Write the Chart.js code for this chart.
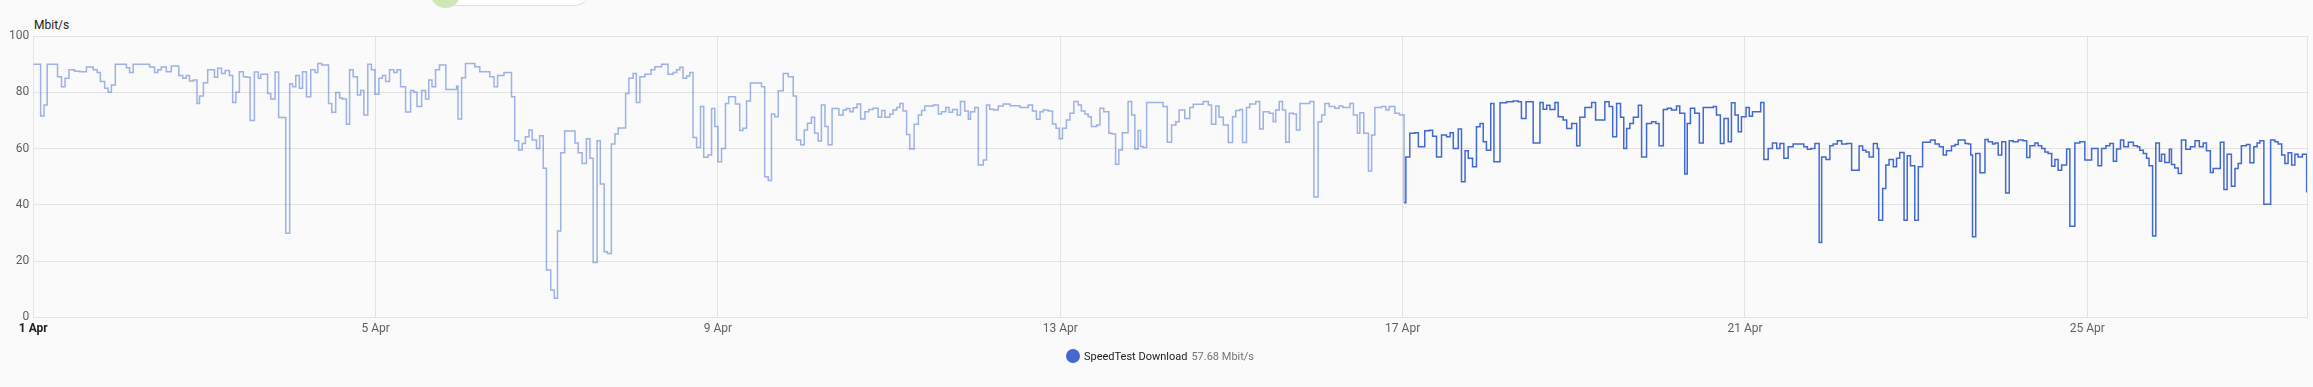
<!DOCTYPE html>
<html>
<head>
<meta charset="utf-8">
<script src="https://cdn.jsdelivr.net/npm/chart.js@4.4.1/dist/chart.umd.min.js"></script>
<style>
html,body{margin:0;padding:0;background:#fafafa;width:2313px;height:387px;overflow:hidden;font-family:Roboto,"Noto Sans",sans-serif;}
#chip{position:absolute;left:430px;top:-30px;width:162px;height:36px;border:1px solid #d6e9c6;border-radius:19px;background:#ffffff;box-sizing:border-box;}
#chipDot{position:absolute;left:430px;top:-24px;width:31px;height:32px;border-radius:50%;background:#cfe6b6;}
#unit{position:absolute;left:34px;top:18px;font-size:12px;color:#212121;line-height:14px;}
#wrap{position:absolute;left:0;top:0;width:2313px;height:387px;}
#legend{position:absolute;left:1066px;top:348px;height:16px;display:flex;align-items:center;font-size:11px;white-space:nowrap;}
#legend .dot{width:14px;height:14px;border-radius:50%;background:#4269d0;margin-right:4px;}
#legend .name{color:#212121;}
#legend .val{color:#757575;margin-left:4px;}
</style>
</head>
<body>
<div id="chip"></div><div id="chipDot"></div>
<div id="unit">Mbit/s</div>
<div id="wrap"><canvas id="c" width="2313" height="387"></canvas></div>
<div id="legend"><span class="dot"></span><span class="name">SpeedTest Download</span><span class="val">57.68 Mbit/s</span></div>
<script>
// ---- data ----
const seriesName = 'SpeedTest Download';
const unit = 'Mbit/s';
const monthName = 'Apr';
const startDay = 1;
const endHour = 637.6;          // hours since 1 Apr 00:00 at right edge
const historySplitHour = 384.4; // older (faded) part ends here
const yTicks = [0, 20, 40, 60, 80, 100];

// hours since 1 Apr 00:00 where a new reading starts
const hours = [
0,2.05,3.0,3.9,6.8,7.9,8.9,10.0,11.6,13.0,14.9,16.8,17.9,18.8,20.0,21.0,21.9,23.0,26.1,27.0,28.0,32.6,34.0,34.9,35.9,37.3,38.7,40.8,41.9,42.9,43.8,44.9,45.9,46.6,47.7,48.9,50.8,51.7,52.8,53.8,55.0,55.9,56.8,57.8,58.9,59.8,60.8,62.0,63.1,63.8,65.7,66.6,67.8,68.8,70.8,71.9,72.7,73.6,74.6,75.5,76.6,77.8,79.0,79.8,80.9,82.8,83.7,84.8,85.9,86.7,87.8,88.7,89.7,90.9,91.8,92.7,93.8,94.8,95.8,96.9,97.9,98.8,99.9,101.1,102.0,103.0,104.4,105.8,106.7,107.6,108.9,110.0,110.9,111.8,112.8,113.9,115.7,
118.7,119.1,120.1,121.2,123.8,125.2,128.0,129.2,130.2,132.0,134.1,135.0,136.1,137.1,138.0,139.0,139.9,141.1,142.0,143.0,143.9,145.1,146.1,147.0,147.9,149.0,151.9,152.8,153.9,155.1,156.1,157.0,158.1,159.0,160.1,161.0,162.1,163.1,164.0,166.1,167.0,168.2,169.1,170.1,171.5,173.2,174.3,176.2,178.0,179.4,180.4,181.3,182.2,183.2,184.1,185.0,186.0,187.1,188.0,189.2,190.2,191.1,192.0,193.0,194.1,195.0,196.9,198.1,199.0,200.0,201.1,204.2,205.1,206.1,207.0,207.9,208.9,210.3,211.7,213.1,214.0,215.2,216.2,217.1,218.2,219.1,220.1,221.0,222.0,222.9,224.0,225.9,227.1,228.0,229.0,229.9,231.0,232.0,233.2,234.3,235.5,
236.9,237.9,238.8,240.2,241.1,242.1,243.0,243.9,244.9,245.8,247.0,248.2,249.1,250.0,252.4,253.8,254.7,255.9,256.8,257.8,259.1,260.0,261.2,262.2,262.8,264.0,265.0,266.4,267.3,268.2,269.4,270.6,272.0,273.9,276.7,279.0,280.2,281.3,282.3,283.2,284.6,285.8,286.8,287.7,288.6,289.7,290.7,291.8,293.0,293.9,294.9,295.8,296.7,298.2,299.1,300.2,301.6,302.5,303.5,304.4,305.4,307.0,308.0,308.9,309.8,310.5,311.2,312.2,316.8,318.0,319.2,320.4,321.3,322.9,324.3,325.3,328.1,329.5,330.4,331.6,332.5,333.7,335.1,336.3,337.2,338.3,339.1,340.2,341.1,342.8,343.9,344.9,346.6,347.7,348.4,349.4,350.3,351.2,352.2,353.3,354.2,355.2,
358.0,359.1,360.3,361.3,362.2,363.4,365.0,366.2,367.2,369.2,370.2,371.3,372.0,373.1,374.4,375.3,376.2,378.1,379.3,380.2,381.8,383.1,384.4,384.9,386.0,387.4,388.4,390.2,391.5,392.4,393.5,394.9,396.3,397.3,398.2,399.6,400.5,401.5,402.4,403.6,404.7,405.7,406.6,407.5,408.7,409.6,411.3,413.1,415.0,416.4,417.3,418.6,420.6,422.5,423.4,424.4,425.3,426.7,427.6,429.0,430.0,431.4,432.8,433.7,435.1,437.0,438.1,440.7,441.9,442.9,444.0,445.1,446.0,446.8,447.7,448.7,450.1,451.0,452.4,453.8,455.0,455.9,457.1,458.2,459.4,460.8,461.7,463.1,463.8,464.7,465.9,467.2,468.3,471.1,472.0,473.1,474.1,475.3,476.2,477.2,478.1,479.0,480.3,481.2,482.1,484.4,485.3,486.5,487.7,488.9,489.8,490.9,492.1,493.5,
496.5,497.5,498.5,499.6,500.8,501.5,502.7,503.8,504.7,505.9,507.1,508.5,509.9,512.0,513.0,513.9,514.8,516.0,517.1,517.5,518.6,519.5,520.4,521.6,522.5,523.4,524.6,525.5,526.4,527.6,528.6,529.8,532.0,533.3,534.5,535.6,536.5,537.9,538.9,539.8,541.7,542.6,543.3,543.8,544.7,545.9,547.3,548.2,549.4,550.1,551.0,552.0,553.1,554.1,555.2,556.6,558.0,559.0,559.9,561.3,562.2,563.2,564.1,565.0,566.0,566.9,567.8,568.8,570.2,571.1,572.5,573.9,575.3,577.2,579.0,580.0,581.2,582.3,583.3,584.2,585.3,586.2,587.5,588.9,590.0,590.7,591.7,592.6,593.3,594.3,595.2,596.2,596.8,597.7,599.0,599.6,600.5,601.5,602.4,603.6,604.9,606.2,607.4,608.5,609.4,610.5,611.3,613.3,614.3,615.2,616.4,617.4,618.3,619.2,620.6,621.6,622.7,623.6,624.4,625.5,627.4,628.6,629.5,630.5,631.4,632.3,633.3,634.2,635.1,636.3,637.5,637.6
];

// download speed (Mbit/s) starting at each of the hours above
const download = [
90,71.6,75.5,90,85.5,82,85,88,87.5,87.3,89,88,87,83.8,81.4,80,82.6,90,88.7,87,90,89,87,88,89,87.3,89.3,86,85,86,84,84.4,76,78.7,83.4,88,85.3,88.5,86.7,87.7,86,76.4,80,87.3,85.5,85.3,70,87.2,85,86.4,79.6,77.6,87.2,71,29.9,83,82,86,81.4,87.3,78.4,88,87,90.2,89.7,76,72.9,79.9,78,77.6,68.6,88,85.5,79,80.6,71.9,90,88,79.3,85,86,83.8,88,87,88,82,73,80.6,80,74.9,80.6,77.6,84.4,82,88,89.7,81,
82.2,70.5,85.2,90.2,89.1,87.3,85.5,82,86,87,78.4,62.8,59.5,61.8,64.2,66.6,63,60,64.5,53,16.8,9.7,6.8,30.7,58.5,66.2,62,58.5,54.7,63.5,56.5,19.5,62.8,47.4,23.3,22.7,61.6,65.2,67.3,79.6,85,86.7,76.4,85.5,86.4,88,89.1,90,86.4,87,88,88.9,85,85.8,87,63.9,60.4,74.9,56.9,57.7,74.2,67.8,55.3,60,76,78.4,75.8,66.4,67.2,76.9,83.3,82,50,48.6,72.3,71.3,80.5,86.7,85.5,78.7,63,61.3,66.6,69,71.1,65.4,62.7,75.5,67.8,61.3,74.2,71.9,73.7,74.2,73.1,74.5,75.8,70.5,73.1,73.9,74.3,
71.1,73.5,71.1,72.3,73.7,74.6,76,73.3,65,59.8,68.6,71.9,73.5,75.1,75.5,72.3,73.1,74.6,72.9,73.9,71.9,76.7,73.3,70.4,73.1,74.6,54.1,55.9,75.5,74,73.7,75.1,75.8,75.2,74.6,75.5,73.3,70.4,73.1,73.7,73.3,68.7,67.2,63.5,67.2,70.1,72.5,76.7,75.5,73.3,72.3,71.3,67.8,68.4,74.3,73.1,65.4,65.2,54.4,59.5,65.6,76.7,71.9,59.8,66.4,60.7,60.4,76.4,74.9,62.2,68.4,69.5,73.7,70.7,74.6,75.7,76.7,75.5,68.6,75.1,71.1,68.4,62.1,71.3,73.5,73.9,62.1,74.6,75.8,76.7,66.9,73.1,72.5,69.5,73.7,76.7,73.7,62.2,72.5,72.3,66.6,76,76.7,
42.8,69.5,71.9,76,74.9,74.3,75.1,74.6,76,71.9,65.4,72.7,65.4,52,64.8,74.6,74.9,73.7,74.9,72.5,71.9,40.7,57,65.4,65.6,60.6,66.3,66.5,64.4,57,64.8,64.2,65.6,60,66.9,48.2,59.2,56.5,53.5,67.7,68.9,62.4,59.4,76,55.3,76.3,76.6,76.9,76.6,70.7,76.6,62,76.4,74,75.4,73.9,76.4,71.3,70.1,67.1,68.9,61,71.1,74.6,76.4,70.1,76.6,74.9,64.2,76,71.1,60,67.1,68.9,71.1,75.4,57,68.9,69.5,68.9,61,73.9,74.3,73.7,75.1,72.5,50.9,68.9,74.3,72.5,62,74.6,74.9,71.9,61.8,70.7,62.4,76.3,71.9,66,71.3,74.6,71.5,73.1,76.4,56.1,60,62,60,61.8,56.5,60.6,61.6,60.6,
59.7,60,61.8,26.6,57,56.1,61,61.6,62.8,61.6,61.8,52.3,60.9,59.4,58.8,57,61.8,60,34.5,45.8,54.1,56.1,53.5,56.5,58.6,34.5,57.4,53.9,34.5,53.5,62.2,63,61.6,60.6,57.7,59.2,60.9,61.4,63,61.8,61.6,57.7,28.6,58.2,51.4,63.2,62.4,61.6,62,57.7,62.4,44.2,62.8,62.4,63,62.8,56.8,61,62,61,60,58.8,58.2,53.7,56.1,52.3,54.1,59.8,32.4,62,62.4,55.9,60,53.9,60,61,61.8,55.5,59.8,63,60.6,62.2,61,60.6,59.4,58.2,56.5,53.9,28.9,62,55.5,58,55,59.7,54.3,53.1,51.1,63,59.7,60.6,62.8,60.6,62,59.2,51.5,52.9,62.2,45.4,58,46.6,52.9,54.7,61,61.4,54.9,60.6,62,62.8,40.2,63,62.4,61.6,57.7,54.7,58.5,54.1,58,57,58,44.6,57.68,57.68
];

// ---- build datasets ----
const pts = hours.map((h, i) => ({x: h, y: download[i]}));
const oldPts = pts.filter(p => p.x <= historySplitHour);
const newPts = pts.filter(p => p.x >= historySplitHour);

const lineColor = '#4269d0';
const fadedColor = 'rgba(66,105,208,0.5)';
const gridColor = '#e3e3e3';

const rightBorder = {
  id: 'rightBorder',
  afterDraw(chart) {
    const {ctx, chartArea} = chart;
    ctx.save();
    ctx.strokeStyle = gridColor;
    ctx.lineWidth = 1;
    ctx.beginPath();
    ctx.moveTo(chartArea.right + 0.5, chartArea.top);
    ctx.lineTo(chartArea.right + 0.5, chartArea.bottom);
    ctx.stroke();
    ctx.restore();
  }
};

new Chart(document.getElementById('c'), {
  type: 'line',
  data: {
    datasets: [
      {label: seriesName, data: oldPts, borderColor: fadedColor, backgroundColor: fadedColor, borderWidth: 1.5, stepped: 'before', pointRadius: 0, fill: false},
      {label: seriesName, data: newPts, borderColor: lineColor, backgroundColor: lineColor, borderWidth: 1.5, stepped: 'before', pointRadius: 0, fill: false}
    ]
  },
  options: {
    responsive: false,
    animation: false,
    events: [],
    layout: {padding: {top: 36, right: 6, left: 0, bottom: 0}},
    plugins: {legend: {display: false}, tooltip: {enabled: false}, title: {display: false}},
    scales: {
      x: {
        type: 'linear',
        min: 0,
        max: endHour,
        afterFit: s => { s.height = 69.7; },
        grid: {color: gridColor, drawTicks: false, lineWidth: 1},
        border: {display: true, color: gridColor},
        ticks: {
          stepSize: 96,
          includeBounds: false,
          maxRotation: 0,
          autoSkip: false,
          padding: 4,
          color: ctx => ctx.index === 0 ? '#212121' : '#5f5f5f',
          font: ctx => ({family: 'Roboto', size: 12, weight: ctx.index === 0 ? 'bold' : 'normal'}),
          callback: v => (startDay + Math.round(v / 24)) + ' ' + monthName
        }
      },
      y: {
        min: yTicks[0],
        max: yTicks[yTicks.length - 1],
        afterFit: s => { s.width = 33.3; },
        afterBuildTicks: s => { s.ticks = yTicks.map(v => ({value: v})); },
        grid: {color: gridColor, drawTicks: false, lineWidth: 1},
        border: {display: true, color: gridColor},
        ticks: {padding: 4, color: '#5f5f5f', font: {family: 'Roboto', size: 12}}
      }
    }
  },
  plugins: [rightBorder]
});
</script>
</body>
</html>
